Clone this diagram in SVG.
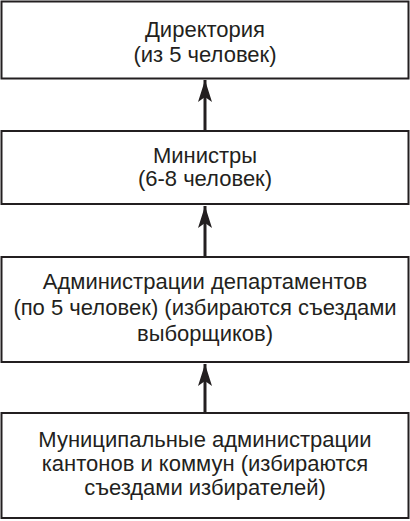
<svg xmlns="http://www.w3.org/2000/svg" width="410" height="521" viewBox="0 0 410 521">
<style>
.box{fill:#fff;stroke:#231f20;stroke-width:2}
.t{font-family:"Liberation Sans",Arial,sans-serif;font-size:22px;fill:#231f20;text-anchor:middle}
.c{stroke:#231f20;stroke-width:3;fill:none}
</style>
<defs>
<marker id="ah" markerUnits="userSpaceOnUse" markerWidth="22" markerHeight="14" refX="22" refY="7" orient="auto" viewBox="0 0 22 14">
<path d="M0,0 L22,7 L0,14 L5,7 Z" fill="#231f20"/>
</marker>
</defs>
<rect width="410" height="521" fill="#fff"/>
<g id="connectors">
<line class="c" x1="205" y1="131" x2="205" y2="80" marker-end="url(#ah)"/>
<line class="c" x1="205" y1="257" x2="205" y2="206" marker-end="url(#ah)"/>
<line class="c" x1="205" y1="413" x2="205" y2="364" marker-end="url(#ah)"/>
</g>
<g id="n1">
<rect class="box" x="1.5" y="1.5" width="407" height="77"/>
<text class="t" x="205" y="37">Директория</text>
<text class="t" x="205" y="62">(из 5 человек)</text>
</g>
<g id="n2">
<rect class="box" x="1.5" y="131" width="407" height="73"/>
<text class="t" x="205" y="163">Министры</text>
<text class="t" x="205" y="186">(6-8 человек)</text>
</g>
<g id="n3">
<rect class="box" x="1.5" y="257" width="407" height="105"/>
<text class="t" x="205" y="289">Администрации департаментов</text>
<text class="t" x="205" y="315">(по 5 человек) (избираются съездами</text>
<text class="t" x="205" y="341">выборщиков)</text>
</g>
<g id="n4">
<rect class="box" x="1.5" y="413" width="407" height="105"/>
<text class="t" x="205" y="447">Муниципальные администрации</text>
<text class="t" x="205" y="471">кантонов и коммун (избираются</text>
<text class="t" x="205" y="495">съездами избирателей)</text>
</g>
</svg>
